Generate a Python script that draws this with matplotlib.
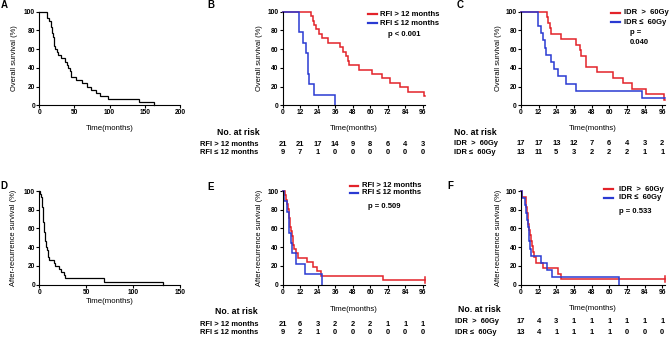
import matplotlib
matplotlib.use("Agg")
import matplotlib.pyplot as plt
from matplotlib.lines import Line2D
from matplotlib.transforms import blended_transform_factory

plt.rcParams['font.family'] = ['Liberation Sans', 'DejaVu Sans']
plt.rcParams['font.weight'] = 'bold'

# ---- data ----
# A: overall survival, all patients
a_time = [11.5, 13.7, 16, 17.3, 17.6, 18.3, 19.5, 20.5, 21.5, 23, 25, 27, 31, 36, 39, 41.5,
          43.5, 44.5, 45.5, 52.5, 61, 68, 73.5, 80.5, 86, 97, 142, 163]
a_surv = [93.3, 90.0, 86.7, 83.3, 80.0, 76.7, 73.3, 70.0, 63.3, 60.0, 56.7, 53.3, 50.0, 46.7,
          43.3, 40.0, 36.7, 33.3, 30.0, 26.7, 23.3, 20.0, 16.7, 13.3, 10.0, 6.7, 3.3, 0]

# B: overall survival by RFI
b_hi_time = [19.5, 20.5, 21.5, 23, 25, 27, 31, 39, 41.5, 43.5, 44.5, 45.5, 52.5, 61, 68, 73.5, 80.5, 86, 97]
b_hi_surv = [95.2, 90.5, 85.7, 81.0, 76.2, 71.4, 66.7, 61.9, 57.1, 52.4, 47.6, 42.9, 38.1, 33.3,
             28.6, 23.8, 19.0, 14.3, 9.5]
b_lo_time = [11.5, 13.7, 16, 17.3, 17.6, 18.3, 21.5, 36]
b_lo_surv = [77.8, 66.7, 55.6, 44.4, 33.3, 22.2, 11.1, 0]

# C: overall survival by IDR
c_hi_time = [17.5, 18.5, 19.5, 20.5, 27, 37.5, 39.8, 41, 44, 44.4, 51.8, 62.3, 69, 75.5, 85.2, 97]
c_hi_surv = [94.1, 88.2, 82.4, 76.5, 70.6, 64.7, 58.8, 52.9, 47.1, 41.2, 35.3, 29.4, 23.5, 17.6, 11.8, 5.9]
c_lo_time = [11.5, 13.4, 15, 16.5, 17, 20.6, 22.2, 25, 30.8, 37.6, 82]
c_lo_surv = [84.6, 76.9, 69.2, 61.5, 53.8, 46.2, 38.5, 30.8, 23.1, 15.4, 7.7]

# D: after-recurrence survival, all patients
d_time = [0.8, 1.5, 2.5, 3.0, 3.2, 3.6, 4.0, 4.3, 4.4, 4.8, 5.2, 5.5, 5.6, 6.2, 6.5, 6.8, 7.4,
          8.0, 9.0, 10.5, 15.3, 16.4, 20.5, 23.5, 26, 27.2, 69, 132]
d_surv = [96.7, 93.3, 90.0, 86.7, 83.3, 80.0, 76.7, 70.0, 66.7, 63.3, 60.0, 56.7, 53.3, 50.0,
          46.7, 43.3, 40.0, 36.7, 30.0, 26.7, 23.3, 20.0, 16.7, 13.3, 10.0, 6.7, 3.3, 0]

# E: after-recurrence survival by RFI
e_hi_time = [1.5, 2.5, 3.2, 3.6, 4.0, 4.4, 4.8, 5.2, 5.6, 6.2, 6.8, 7.4, 8.0, 9.0, 10.5, 16.4, 20.5, 23.5, 26, 69]
e_hi_surv = [95.2, 90.5, 85.7, 81.0, 76.2, 71.4, 66.7, 61.9, 57.1, 52.4, 47.6, 42.9, 38.1, 33.3,
             28.6, 23.8, 19.0, 14.3, 9.5, 4.8]
e_lo_time = [0.8, 3.0, 4.3, 5.5, 6.5, 9.0, 15.3, 27.2]
e_lo_surv = [88.9, 77.8, 55.6, 44.4, 33.3, 22.2, 11.1, 0]

# F: after-recurrence survival by IDR
f_hi_time = [1, 3.4, 3.7, 4, 4.5, 5, 5.4, 6, 6.8, 7.7, 8.4, 9, 10, 15.2, 25.4, 27]
f_hi_surv = [94.1, 88.2, 82.4, 76.5, 70.6, 64.7, 58.8, 52.9, 47.1, 41.2, 35.3, 29.4, 23.5, 17.6, 11.8, 5.9]
f_lo_time = [0.5, 2.7, 3.5, 4.2, 4.6, 5.2, 5.6, 6.2, 7, 13.4, 17.4, 21.3, 66.6]
f_lo_surv = [92.3, 84.6, 76.9, 69.2, 61.5, 53.8, 46.2, 38.5, 30.8, 23.1, 15.4, 7.7, 0]

# numbers at risk
risk_times = [0, 12, 24, 36, 48, 60, 72, 84, 96]
b_risk_hi = [21, 21, 17, 14, 9, 8, 6, 4, 3]
b_risk_lo = [9, 7, 1, 0, 0, 0, 0, 0, 0]
c_risk_hi = [17, 17, 13, 12, 7, 6, 4, 3, 2]
c_risk_lo = [13, 11, 5, 3, 2, 2, 2, 1, 1]
e_risk_hi = [21, 6, 3, 2, 2, 2, 1, 1, 1]
e_risk_lo = [9, 2, 1, 0, 0, 0, 0, 0, 0]
f_risk_hi = [17, 4, 3, 1, 1, 1, 1, 1, 1]
f_risk_lo = [13, 4, 1, 1, 1, 1, 0, 0, 0]

rfi_labels = ['RFI > 12 months', 'RFI \u2264 12 months']
idr_labels = ['IDR  >  60Gy', 'IDR \u2264  60Gy']

RED = '#e3232a'
BLUE = '#2a3ad2'

W, H = 669, 337
fig = plt.figure(figsize=(6.69, 3.37), dpi=100)


def fx(x):
    return x / W


def fy(y):
    return 1 - y / H


def make_axes(x0, x1, ytop, ybot, xmax, xticks, ylab, ylab_x, xlab_y):
    ax = fig.add_axes([fx(x0), fy(ybot), (x1 - x0) / W, (ybot - ytop) / H])
    ax.set_xlim(0, xmax)
    ax.set_ylim(0, 100)
    ax.set_xticks(xticks)
    ax.set_yticks([0, 20, 40, 60, 80, 100])
    for s in ['top', 'right']:
        ax.spines[s].set_visible(False)
    for s in ['left', 'bottom']:
        ax.spines[s].set_linewidth(0.8)
    ax.tick_params(direction='out', length=2, width=0.8, labelsize=4.8, pad=1)
    ax.set_ylabel(ylab, fontsize=5.4)
    ax.yaxis.set_label_coords(ylab_x, 0.5)
    ax.yaxis.label.set_va('center')
    ax.set_xlabel('Time(months)', fontsize=5.6)
    ax.xaxis.set_label_coords(0.5, xlab_y)
    ax.xaxis.label.set_va('center')
    return ax


def km(ax, t, s, end, color, lw):
    x = [0] + list(t) + [end]
    y = [100] + list(s) + [s[-1]]
    ax.step(x, y, where='post', color=color, lw=lw, clip_on=False, solid_joinstyle='miter')


def legend(x0, x1, ys, labels, tx):
    for y, c, lab in zip(ys, [RED, BLUE], labels):
        fig.add_artist(Line2D([fx(x0), fx(x1)], [fy(y), fy(y)], color=c, lw=1.6))
        fig.text(fx(tx), fy(y), lab, fontsize=5.5, ha='left', va='center')


def risk_table(ax, head_xy, row_x, row_ys, labels, hi, lo):
    fig.text(fx(head_xy[0]), fy(head_xy[1]), 'No. at risk', fontsize=6.3, ha='left', va='center')
    tr = blended_transform_factory(ax.transData, fig.transFigure)
    for y, lab, vals in zip(row_ys, labels, [hi, lo]):
        fig.text(fx(row_x), fy(y), lab, fontsize=5.4, ha='left', va='center')
        for t, v in zip(risk_times, vals):
            ax.text(t, fy(y), str(v), transform=tr, fontsize=5.4, ha='center', va='center')


top_t, top_b = 11.7, 105.2
bot_t, bot_b = 191, 284.7
mticks = risk_times

# A
axA = make_axes(39.3, 180, top_t, top_b, 200, [0, 50, 100, 150, 200], 'Overall survival (%)', -0.173, -0.25)
km(axA, a_time, a_surv, a_time[-1], 'black', 0.9)

# B
axB = make_axes(282.7, 424.9, top_t, top_b, 97.5, mticks, 'Overall survival (%)', -0.16, -0.246)
km(axB, b_hi_time, b_hi_surv, 97.5, RED, 1.1)
km(axB, b_lo_time, b_lo_surv, b_lo_time[-1], BLUE, 1.1)
legend(368, 377, [14, 23.3], rfi_labels, 380)
fig.text(fx(404), fy(34.3), 'p < 0.001', fontsize=5.5, ha='center', va='center')
risk_table(axB, (216.7, 132.7), 200, [144, 153], rfi_labels, b_risk_hi, b_risk_lo)

# C
axC = make_axes(521, 664.5, top_t, top_b, 97.5, mticks, 'Overall survival (%)', -0.158, -0.246)
km(axC, c_hi_time, c_hi_surv, 97.5, RED, 1.1)
km(axC, c_lo_time, c_lo_surv, 97.5, BLUE, 1.1)
legend(610.7, 620, [12.7, 22.3], idr_labels, 624)
fig.text(fx(630), fy(32.3), 'p =', fontsize=5.5, ha='left', va='center')
fig.text(fx(630), fy(42.7), '0.040', fontsize=5.5, ha='left', va='center')
risk_table(axC, (453.7, 132.5), 453.7, [143.3, 152.7], idr_labels, c_risk_hi, c_risk_lo)

# D
axD = make_axes(39.3, 180, bot_t, bot_b, 150, [0, 50, 100, 150], 'After-recurrence survival (%)', -0.18, -0.179)
km(axD, d_time, d_surv, d_time[-1], 'black', 0.9)

# E
axE = make_axes(282.7, 424.9, bot_t, bot_b, 97.5, mticks, 'After-recurrence survival (%)', -0.16, -0.266)
km(axE, e_hi_time, e_hi_surv, 97.5, RED, 1.1)
km(axE, e_lo_time, e_lo_surv, e_lo_time[-1], BLUE, 1.1)
axE.plot([97.5, 97.5], [e_hi_surv[-1] - 3.5, e_hi_surv[-1] + 3.5], color=RED, lw=1.1, clip_on=False)
legend(350, 358, [185.7, 192.7], rfi_labels, 362.3)
fig.text(fx(368), fy(206.7), 'p = 0.509', fontsize=5.5, ha='left', va='center')
risk_table(axE, (215, 311.7), 200, [324.3, 332.7], rfi_labels, e_risk_hi, e_risk_lo)

# F
axF = make_axes(521, 664.5, bot_t, bot_b, 97.5, mticks, 'After-recurrence survival (%)', -0.158, -0.259)
km(axF, f_hi_time, f_hi_surv, 97.5, RED, 1.1)
km(axF, f_lo_time, f_lo_surv, f_lo_time[-1], BLUE, 1.1)
axF.plot([97.5, 97.5], [f_hi_surv[-1] - 3.5, f_hi_surv[-1] + 3.5], color=RED, lw=1.1, clip_on=False)
legend(604, 613, [189, 197.7], idr_labels, 619)
fig.text(fx(619), fy(211.7), 'p = 0.533', fontsize=5.5, ha='left', va='center')
risk_table(axF, (457.7, 309), 455, [321.7, 332.3], idr_labels, f_risk_hi, f_risk_lo)

# panel letters
for lab, x, y in [('A', 1, 4.5), ('B', 207, 4.5), ('C', 457, 4.5),
                  ('D', 0.5, 186), ('E', 207, 187), ('F', 447, 186)]:
    fig.text(fx(x), fy(y), lab, fontsize=7, ha='left', va='center')

fig.savefig('out.png', dpi=100)
